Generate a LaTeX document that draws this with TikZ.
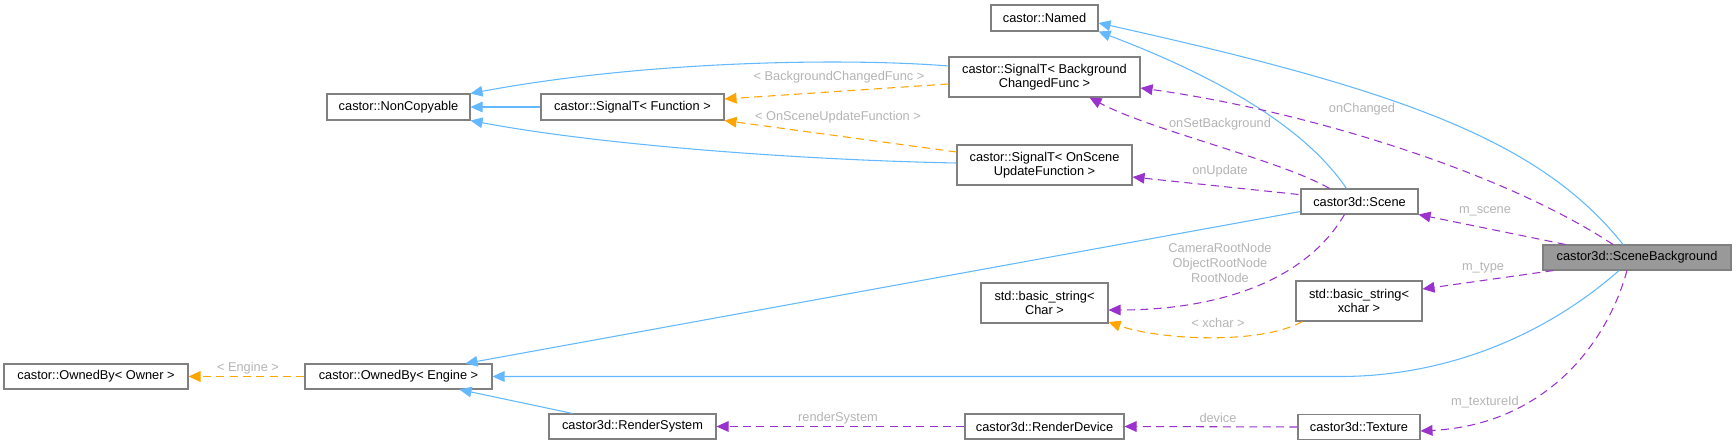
\documentclass[tikz,border=0pt]{standalone}
\usepackage{fontspec}
\setmainfont{Liberation Sans}
\usetikzlibrary{arrows.meta,calc}

\definecolor{inhblue}{HTML}{63B8FF}
\definecolor{tplorange}{HTML}{FFA500}
\definecolor{usepurple}{HTML}{9A32CD}
\definecolor{boxgray}{HTML}{808080}
\definecolor{lblgray}{HTML}{B4B4B4}
\definecolor{curfill}{HTML}{999999}

\begin{document}
\begin{tikzpicture}[
  x=0.75pt, y=-0.75pt,
  >={Triangle[length=9pt,width=8pt]},
  font=\fontsize{9.6}{10.5}\selectfont,
  cls/.style={draw=boxgray,fill=white,line width=0.8pt,inner sep=0pt,align=center},
  cur/.style={cls,fill=curfill},
  sz/.style 2 args={minimum width=#1*0.75pt,minimum height=#2*0.75pt},
  inh/.style={draw=inhblue,line width=0.8pt,->},
  tpl/.style={draw=tplorange,line width=0.8pt,dash pattern=on 6pt off 4pt,->},
  usage/.style={draw=usepurple,line width=0.8pt,dash pattern=on 6pt off 4pt,->},
  lbl/.style={text=lblgray,inner sep=0pt,align=center,
    font=\fontsize{9.6}{11.25}\selectfont}]

\useasboundingbox (0,0) rectangle (1736,445);

% --- classes, one column per rank ---
\node[cls,sz={184}{25}] (ownr) at (96,376.5) {castor::OwnedBy< Owner >};
\node[cls,sz={143}{26}] (noncopy) at (398.5,107) {castor::NonCopyable};
\node[cls,sz={187}{25}] (owne) at (398.5,376.5) {castor::OwnedBy< Engine >};
\node[cls,sz={183}{26}] (sigfn) at (632.5,107) {castor::SignalT< Function >};
\node[cls,sz={167}{25}] (rsys) at (632.5,426.5) {castor3d::RenderSystem};
\node[cls,sz={107}{26}] (named) at (1044.5,18) {castor::Named};
\node[cls,sz={191}{40}] (bcf) at (1044.5,77) {castor::SignalT< Background\\ChangedFunc >};
\node[cls,sz={175}{40}] (onscene) at (1044.5,165) {castor::SignalT< OnScene\\UpdateFunction >};
\node[cls,sz={127}{40}] (strchar) at (1044.5,303) {std::basic\_string<\\Char >};
\node[cls,sz={159}{25}] (rdev) at (1044.5,426.5) {castor3d::RenderDevice};
\node[cls,sz={117}{25}] (scene) at (1359.5,201.5) {castor3d::Scene};
\node[cls,sz={126}{40}] (strx) at (1359,301) {std::basic\_string<\\xchar >};
\node[cls,sz={122}{25}] (tex) at (1359,427) {castor3d::Texture};
\node[cur,sz={188}{25}] (bg) at (1637,257.5) {castor3d::SceneBackground};

% --- inheritance (blue) ---
\draw[inh] ($(bcf.west)+(0,-11)$) .. controls (850,58) and (650,60) .. (noncopy.north east);
\draw[inh] (sigfn.west) -- (noncopy.east);
\draw[inh] ($(onscene.west)+(0,-2)$) .. controls (800,160) and (600,145) .. (noncopy.south east);
\draw[inh] ($(scene.north)+(-13,0)$) .. controls (1300,120) and (1200,70) .. (named.south east);
\draw[inh] ($(bg.north)+(-14,0)$) .. controls (1540,140) and (1400,90) .. ($(named.east)+(0,5)$);
\draw[inh] ($(scene.west)+(0,10)$) -- ($(owne.north east)+(-27,0)$);
\draw[inh] ($(bg.south)+(-18,0)$) .. controls (1540,340) and (1440,376.5) .. (1340,376.5) -- (owne.east);
\draw[inh] ($(rsys.north)+(-60,0)$) -- ($(owne.south east)+(-33,0)$);

% --- template instances (orange) ---
\draw[tpl] ($(bcf.west)+(0,7)$) -- ($(sigfn.east)+(0,-8)$);
\draw[tpl] ($(onscene.west)+(0,-13)$) -- (sigfn.south east);
\draw[tpl] (owne.west) -- (ownr.east);
\draw[tpl] ($(strx.south west)+(7,0)$) .. controls (1260,345) and (1160,340) .. ($(strchar.east)+(0,19)$);

% --- usage (purple) ---
\draw[usage] ($(bg.north)+(-24,0)$) .. controls (1500,170) and (1300,110) .. ($(bcf.east)+(0,11)$);
\draw[usage] ($(scene.north)+(-30,0)$) .. controls (1280,160) and (1150,130) .. ($(bcf.south)+(45,0)$);
\draw[usage] ($(scene.west)+(-2,-7)$) -- ($(onscene.east)+(0,12)$);
\draw[usage] ($(bg.north west)+(23,0)$) -- (scene.south east);
\draw[usage] ($(bg.south west)+(11,0)$) -- ($(strx.east)+(0,-12)$);
\draw[usage] ($(scene.south)+(-15,0)$) .. controls (1300,290) and (1200,310) .. ($(strchar.east)+(0,7)$);
\draw[usage] ($(bg.south)+(-10,0)$) .. controls (1605,350) and (1540,425) .. ($(tex.east)+(0,4)$);
\draw[usage] (tex.west) -- (rdev.east);
\draw[usage] (rdev.west) -- (rsys.east);

% --- edge labels ---
\node[lbl] (lbcf) at (839,77) {< BackgroundChangedFunc >};
\node[lbl] (lupdfn) at (838,117) {< OnSceneUpdateFunction >};
\node[lbl] (lengine) at (248,368) {< Engine >};
\node[lbl] (lxchar) at (1218,323) {< xchar >};
\node[lbl] (lchanged) at (1362,109) {onChanged};
\node[lbl] (lsetbg) at (1220,124) {onSetBackground};
\node[lbl] (lupdate) at (1220,171) {onUpdate};
\node[lbl] (lscene) at (1485,211) {m\_scene};
\node[lbl] (ltype) at (1483,268) {m\_type};
\node[lbl] (lroots) at (1220,263) {CameraRootNode\\ObjectRootNode\\RootNode};
\node[lbl] (ltexid) at (1485,402) {m\_textureId};
\node[lbl] (ldevice) at (1218,418) {device};
\node[lbl] (lrsys) at (838,418) {renderSystem};

\end{tikzpicture}
\end{document}
